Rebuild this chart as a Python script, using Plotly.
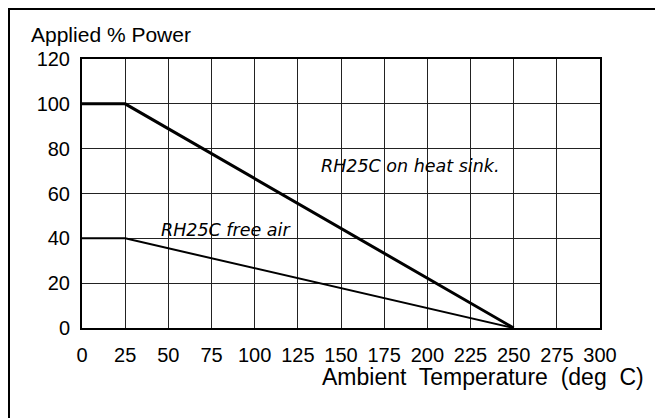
import plotly.graph_objects as go

# Data
temp_heatsink = [0, 25, 250]
power_heatsink = [100, 100, 0]
temp_freeair = [0, 25, 250]
power_freeair = [40, 40, 0]
x_ticks = [0, 25, 50, 75, 100, 125, 150, 175, 200, 225, 250, 275, 300]
y_ticks = [0, 20, 40, 60, 80, 100, 120]

# page body has an 8px margin: lay out in screen pixels, then shift
OFF = 8
W, H = 663 - OFF, 418 - OFF
L, R, T, B = 82 - OFF, 63, 59 - OFF, 90
pw, ph = W - L - R, H - T - B

def px(x):
    return (x - OFF - L) / pw

def py(y):
    return (H - B - (y - OFF)) / ph

font = "Liberation Sans, Arial, sans-serif"
ifont = "DejaVu Sans, sans-serif"

fig = go.Figure()
fig.add_trace(go.Scatter(x=temp_heatsink, y=power_heatsink, mode="lines",
                         line=dict(color="black", width=3), showlegend=False,
                         name="RH25C on heat sink."))
fig.add_trace(go.Scatter(x=temp_freeair, y=power_freeair, mode="lines",
                         line=dict(color="black", width=2), showlegend=False,
                         name="RH25C free air"))

fig.update_xaxes(range=[0, 300], tickvals=x_ticks, ticktext=[str(v) for v in x_ticks],
                 showgrid=True, gridcolor="#222", gridwidth=1, zeroline=False,
                 showline=True, linecolor="black", linewidth=2, mirror=True,
                 ticks="", ticklabelstandoff=8,
                 tickfont=dict(family=font, size=20, color="black"))
fig.update_yaxes(range=[0, 120], tickvals=y_ticks,
                 showgrid=True, gridcolor="#222", gridwidth=1, zeroline=False,
                 showline=True, linecolor="black", linewidth=2, mirror=True,
                 ticks="", ticklabelstandoff=6,
                 tickfont=dict(family=font, size=20, color="black"))

fig.add_annotation(text="Applied % Power", xref="paper", yref="paper",
                   x=px(29), y=py(34), xanchor="left", yanchor="middle",
                   showarrow=False, font=dict(family=font, size=21, color="black"))
fig.add_annotation(text="Ambient  Temperature  (deg  C)", xref="paper", yref="paper",
                   x=px(646), y=py(377), xanchor="right", yanchor="middle",
                   showarrow=False, font=dict(family=font, size=23, color="black"))
fig.add_annotation(text="<i>RH25C on heat sink.</i>", xref="paper", yref="paper",
                   x=px(319), y=py(166), xanchor="left", yanchor="middle",
                   showarrow=False, font=dict(family=ifont, size=17.5, color="black"))
fig.add_annotation(text="<i>RH25C free air</i>", xref="paper", yref="paper",
                   x=px(159), y=py(230), xanchor="left", yanchor="middle",
                   showarrow=False, font=dict(family=ifont, size=17.5, color="black"))

# outer frame (cropped at right and bottom)
fig.add_shape(type="rect", xref="paper", yref="paper",
              x0=px(9), x1=px(690), y0=py(450), y1=py(9),
              line=dict(color="black", width=2), layer="below")

fig.update_layout(width=W, height=H, margin=dict(l=L, r=R, t=T, b=B),
                  paper_bgcolor="white", plot_bgcolor="white")
fig.write_html("out.html")
